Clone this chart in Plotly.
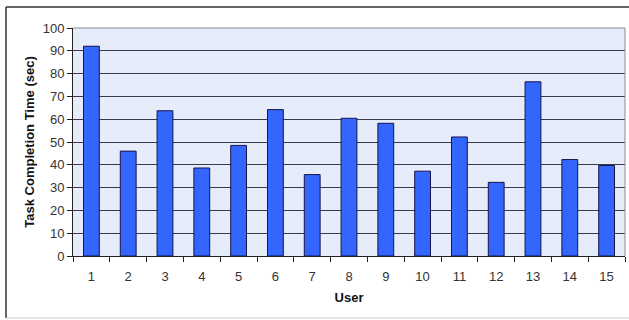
import plotly.graph_objects as go

users = [str(i) for i in range(1, 16)]
times = [92, 46, 63.7, 38.6, 48.5, 64.2, 35.7, 60.4, 58.2, 37.2, 52.2, 32.3, 76.4, 42.3, 39.7]
y_ticks = list(range(0, 101, 10))

W, H = 629, 320
L, R, T, B = 73, 4, 28, 64
pw, ph = W - L - R, H - T - B

fig = go.Figure()
fig.add_trace(go.Bar(
    x=users, y=times,
    marker=dict(color="#3366FF", line=dict(color="#15154a", width=1)),
    width=0.43,
))

def px_x(p):
    return (p - L) / pw

def px_y(p):
    return (H - B - p) / ph

border = dict(color="#333", width=1.5)
fig.update_layout(
    width=W, height=H,
    margin=dict(l=L, r=R, t=T, b=B),
    paper_bgcolor="white",
    plot_bgcolor="#E6ECFA",
    showlegend=False,
    font=dict(family="Liberation Sans, Arial, sans-serif", size=12, color="#222"),
    xaxis=dict(
        type="category",
        showline=True, linecolor="#222", linewidth=1,
        ticks="outside", ticklen=5, tickcolor="#222", tickson="boundaries",
        showgrid=False,
        tickfont=dict(size=13, color="#333"),
        ticklabelstandoff=8,
        title=dict(text="<b>User</b>", font=dict(size=13, color="#111"), standoff=10),
    ),
    yaxis=dict(
        range=[0, 100],
        tickvals=y_ticks,
        showline=True, linecolor="#222", linewidth=1,
        ticks="outside", ticklen=5, tickcolor="#222",
        showgrid=True, gridcolor="#3a3a48", gridwidth=1,
        zeroline=False,
        tickfont=dict(size=13, color="#333"),
        title=dict(text="<b>Task Completion Time (sec)</b>", font=dict(size=13, color="#111"), standoff=5),
    ),
    shapes=[
        dict(type="line", xref="paper", yref="paper", x0=0, x1=1, y0=1, y1=1,
             line=dict(color="#8a8a95", width=1), layer="above"),
        dict(type="line", xref="paper", yref="paper", x0=1, x1=1, y0=0, y1=1,
             line=dict(color="#8a8a95", width=1), layer="above"),
        dict(type="line", xref="paper", yref="paper",
             x0=px_x(6), x1=px_x(632), y0=px_y(7), y1=px_y(7), line=border, layer="below"),
        dict(type="line", xref="paper", yref="paper",
             x0=px_x(6), x1=px_x(6), y0=px_y(7), y1=px_y(318), line=border, layer="below"),
        dict(type="line", xref="paper", yref="paper",
             x0=px_x(6), x1=px_x(632), y0=px_y(318), y1=px_y(318),
             line=dict(color="#cccccc", width=1), layer="below"),
    ],
)

fig.write_html("out.html", config={"responsive": False})
